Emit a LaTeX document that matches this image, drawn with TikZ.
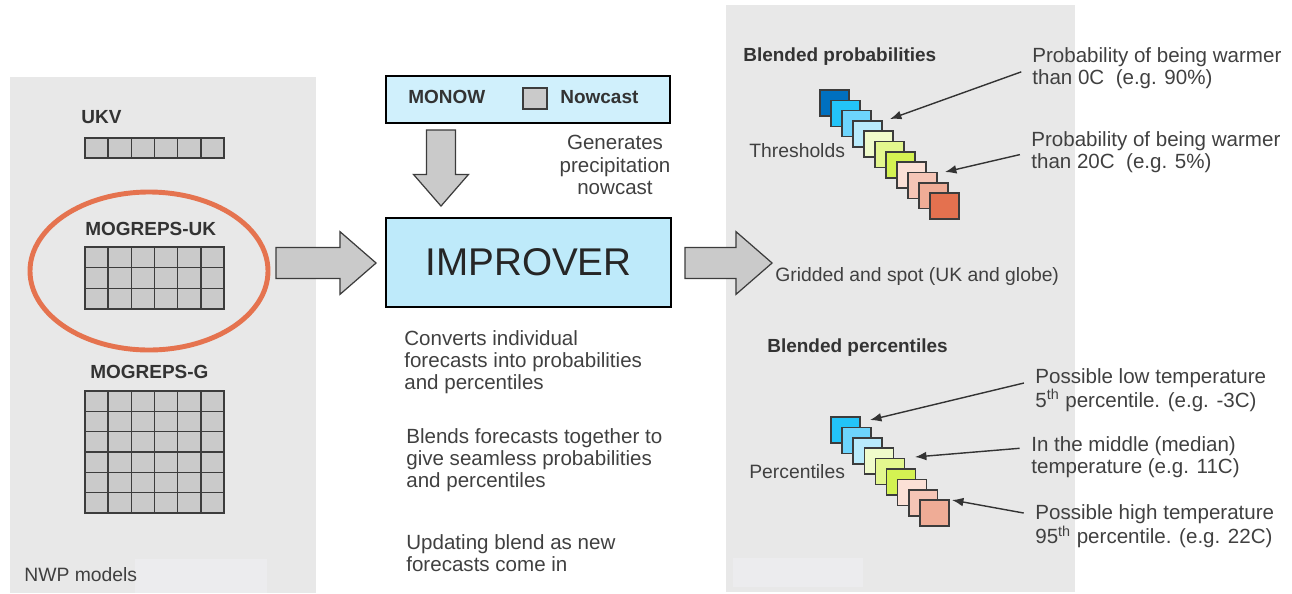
\documentclass[tikz,border=0pt]{standalone}
\usepackage{fontspec}
\setmainfont{Liberation Sans}
\usepackage{xcolor}
\definecolor{cPanel}{HTML}{E8E8E8}
\definecolor{cPatch}{HTML}{ECECEE}
\definecolor{cCell}{HTML}{CACACA}
\definecolor{cEdge}{HTML}{3C3C3C}
\definecolor{cInk}{HTML}{333333}
\definecolor{cText}{HTML}{404040}
\definecolor{cRing}{HTML}{E5734F}
\definecolor{cSkyA}{HTML}{D0F0FC}
\definecolor{cSkyB}{HTML}{BEEAFA}
\definecolor{cBlueDk}{HTML}{0070C0}
\definecolor{cBlue}{HTML}{23C4F8}
\definecolor{cBlueMd}{HTML}{6DD4FC}
\definecolor{cBlueLt}{HTML}{B9EBFC}
\definecolor{cYelLt}{HTML}{F0FBCB}
\definecolor{cYelMd}{HTML}{E3F78E}
\definecolor{cYel}{HTML}{D4F252}
\definecolor{cPinkLt}{HTML}{FBE0D6}
\definecolor{cPink}{HTML}{F5C5B6}
\definecolor{cPinkMd}{HTML}{EFAC96}
\definecolor{cOrange}{HTML}{E4714F}
\usetikzlibrary{positioning,arrows.meta,shapes.arrows,calc}
\tikzset{
  cell/.style={draw=cEdge,fill=cCell,line width=0.9pt},
  cell-line/.style={draw=cEdge,line width=0.9pt},
  ring/.style={draw=cRing,line width=2.8pt},
  model-label/.style={anchor=west,inner sep=0,text=cInk,
    font=\bfseries\fontsize{10.8}{12}\selectfont},
  note/.style={anchor=west,inner sep=0,align=left,text=cText,
    font=\fontsize{11}{12.5}\selectfont},
  note-block/.style={note,font=\fontsize{11.7}{12.6}\selectfont},
  main-box/.style={draw=black,line width=1.3pt,inner sep=0},
  key-square/.style={draw=cEdge,fill=cCell,line width=0.9pt,
    minimum width=0.48cm,minimum height=0.42cm,inner sep=0},
  block-arrow/.style={single arrow,draw=cEdge,fill=cCell,line width=0.7pt,
    single arrow tip angle=82,anchor=tip},
  stack-square/.style={draw=cEdge,line width=0.9pt,
    minimum width=0.58cm,minimum height=0.52cm,inner sep=0},
  pointer/.style={-{Latex[length=6.5pt,width=5pt]},draw=cInk,line width=0.8pt,
    shorten <=6.5pt},
}
\begin{document}
\begin{tikzpicture}[x=0.02cm,y=-0.02cm]
  \useasboundingbox (0,0) rectangle (1292,593);
  % grey panels
  \fill[cPanel] (10,77) rectangle (316,593);
  \fill[cPanel] (726,5) rectangle (1075,592);
  \fill[cPatch] (135,559) rectangle (267,593);
  \fill[cPatch] (733,558) rectangle (863,587);

  % NWP models
  \node[model-label] (ukv) at (81,117) {UKV};
  \draw[cell] (85,138) rectangle (224,158);
  \foreach \c in {1,...,5}
    \draw[cell-line] (85+23.17*\c,138) -- ++(0,20);
  \node[model-label] (mukl) at (85,229) {MOGREPS-UK};
  \draw[cell] (85,247) rectangle (224,309);
  \foreach \c in {1,...,5}
    \draw[cell-line] (85+23.17*\c,247) -- ++(0,62);
  \foreach \r in {1,2}
    \draw[cell-line] (85,247+20.67*\r) -- ++(139,0);
  \draw[ring] (149,271) ellipse [x radius=119, y radius=79];
  \node[model-label] (mgl) at (90,372) {MOGREPS-G};
  \draw[cell] (85,391) rectangle (224,513);
  \foreach \c in {1,...,5}
    \draw[cell-line] (85+23.17*\c,391) -- ++(0,122);
  \foreach \r in {1,...,5}
    \draw[cell-line] (85,391+20.33*\r) -- ++(139,0);
  \node[note] (nwp) at (24,575) {NWP models};

  % MONOW and IMPROVER
  \node[main-box,fill=cSkyA,minimum width=5.68cm,minimum height=0.94cm] (monow) at (528,99.5) {};
  \node[model-label] (monowl) at (408,97) {MONOW};
  \node[key-square] (nowkey) at (535,98.5) {};
  \node[model-label] (nowl) at (560,97) {Nowcast};
  \node[note-block,anchor=center,align=center] (gen) at (615,165)
    {Generates\\precipitation\\nowcast};
  \node[main-box,fill=cSkyB,minimum width=5.7cm,minimum height=1.78cm,
    text=black!85,font=\fontsize{22}{24}\selectfont] (improver) at (528.5,262.5) {IMPROVER};
  \node[block-arrow,minimum height=1.52cm,inner xsep=7.9pt,inner ysep=0pt,
    single arrow head extend=7.4pt,shape border rotate=270] (arrdown) at (441,207) {};
  \node[block-arrow,minimum height=2cm,inner xsep=0pt,inner ysep=8.5pt,
    single arrow head extend=9pt] (arrin) at (377,263) {};
  \node[block-arrow,minimum height=1.74cm,inner xsep=0pt,inner ysep=8.5pt,
    single arrow head extend=9pt] (arrout) at (773,263) {};

  \node[note-block] (conv) at (404,362)
    {Converts individual\\forecasts into probabilities\\and percentiles};
  \node[note-block] (blend) at (406,460.5)
    {Blends\ forecasts together to\\give seamless probabilities\\and percentiles};
  \node[note-block] (upd) at (406,553.5)
    {Updating blend\ as new\\forecasts come in};

  % outputs
  \node[note] (grid) at (775,276) {Gridded and spot (UK and globe)};
  \node[model-label] (bprob) at (743,57) {Blended probabilities};
  \foreach \col [count=\i from 0] in {cBlueDk,cBlue,cBlueMd,cBlueLt,cYelLt,
      cYelMd,cYel,cPinkLt,cPink,cPinkMd,cOrange}
    \node[stack-square,fill=\col] (th\i) at (834.5+11*\i,103+10.3*\i) {};
  \node[note] (thr) at (749,151) {Thresholds};
  \node[note-block] (probA) at (1032,68)
    {Probability\ of being warmer\\than 0C\ \ (e.g. 90\%)};
  \node[note-block] (probB) at (1031,152)
    {Probability\ of being warmer\\than 20C\ \ (e.g. 5\%)};
  \coordinate (tipA) at (890,119);
  \coordinate (tipB) at (945,172);
  \draw[pointer] (probA.west) -- (tipA);
  \draw[pointer] (probB.west) -- (tipB);

  \node[model-label] (bperc) at (767,348) {Blended percentiles};
  \foreach \col [count=\i from 0] in {cBlue,cBlueMd,cBlueLt,cYelLt,
      cYelMd,cYel,cPinkLt,cPink,cPinkMd}
    \node[stack-square,fill=\col] (pc\i) at (845.5+11.1*\i,430+10.4*\i) {};
  \node[note] (perc) at (749,472) {Percentiles};
  \node[note-block] (lowT) at (1035,390)
    {Possible low temperature\\5\textsuperscript{th} percentile. (e.g. -3C)};
  \node[note-block] (midT) at (1031,457)
    {In the middle\ (median)\\temperature (e.g. 11C)};
  \node[note-block] (highT) at (1035,526.5)
    {Possible high temperature\\95\textsuperscript{th} percentile. (e.g. 22C)};
  \coordinate (tipL) at (870,420);
  \coordinate (tipM) at (915,457);
  \coordinate (tipH) at (952,500);
  \draw[pointer] ([yshift=5.5pt]lowT.west) -- (tipL);
  \draw[pointer] ([yshift=5.5pt]midT.west) -- (tipM);
  \draw[pointer] ([yshift=6.5pt]highT.west) -- (tipH);
\end{tikzpicture}
\end{document}
